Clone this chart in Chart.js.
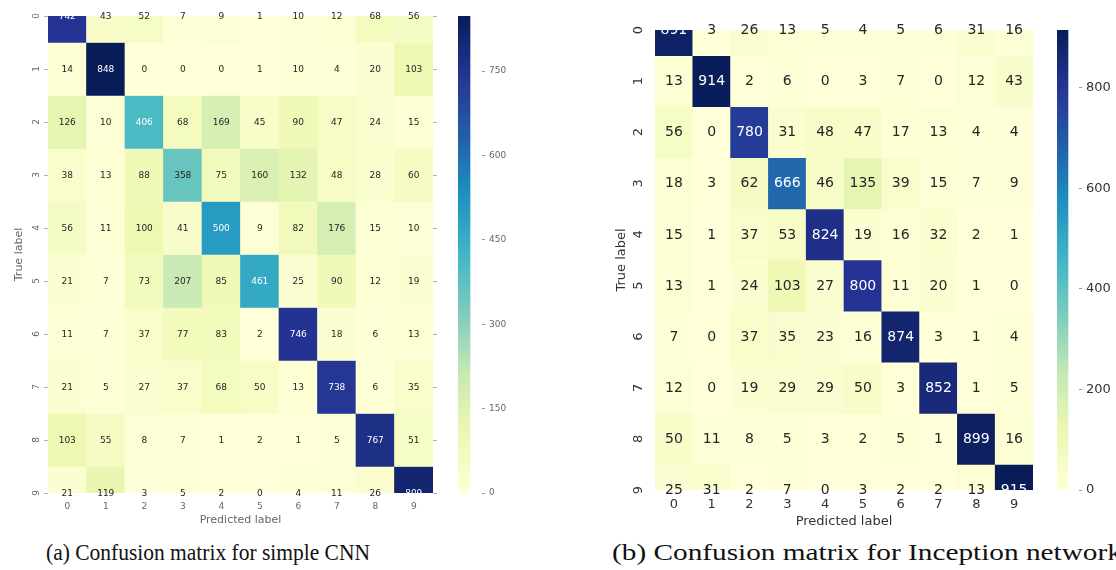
<!DOCTYPE html>
<html>
<head>
<meta charset="utf-8">
<script src="https://cdn.jsdelivr.net/npm/chart.js@4.4.1/dist/chart.umd.min.js"></script>
<style>
  html, body { margin: 0; padding: 0; background: #fff; }
  body { width: 1116px; height: 570px; position: relative; overflow: hidden; }
  canvas { position: absolute; }
  .caption {
    position: absolute; white-space: nowrap; transform-origin: 0 0;
    font-family: "Liberation Serif", "DejaVu Serif", serif; font-size: 24px; line-height: 24px; color: #111;
  }
</style>
</head>
<body>
<canvas id="cnnChart" width="445" height="530" style="left:0;top:0"></canvas>
<canvas id="cnnBar" width="60" height="510" style="left:450px;top:0"></canvas>
<canvas id="incChart" width="450" height="535" style="left:600px;top:0"></canvas>
<canvas id="incBar" width="66" height="510" style="left:1050px;top:0"></canvas>
<div class="caption" id="capA" style="left:46px;top:540px">(a) Confusion matrix for simple CNN</div>
<div class="caption" id="capB" style="left:612px;top:540px">(b) Confusion matrix for Inception network</div>

<script>
// class labels for both axes
const classLabels = ['0', '1', '2', '3', '4', '5', '6', '7', '8', '9'];

// rows = true label, columns = predicted label
const cnnMatrix = [
    [742, 43, 52, 7, 9, 1, 10, 12, 68, 56],
    [14, 848, 0, 0, 0, 1, 10, 4, 20, 103],
    [126, 10, 406, 68, 169, 45, 90, 47, 24, 15],
    [38, 13, 88, 358, 75, 160, 132, 48, 28, 60],
    [56, 11, 100, 41, 500, 9, 82, 176, 15, 10],
    [21, 7, 73, 207, 85, 461, 25, 90, 12, 19],
    [11, 7, 37, 77, 83, 2, 746, 18, 6, 13],
    [21, 5, 27, 37, 68, 50, 13, 738, 6, 35],
    [103, 55, 8, 7, 1, 2, 1, 5, 767, 51],
    [21, 119, 3, 5, 2, 0, 4, 11, 26, 809]
];

const inceptionMatrix = [
    [891, 3, 26, 13, 5, 4, 5, 6, 31, 16],
    [13, 914, 2, 6, 0, 3, 7, 0, 12, 43],
    [56, 0, 780, 31, 48, 47, 17, 13, 4, 4],
    [18, 3, 62, 666, 46, 135, 39, 15, 7, 9],
    [15, 1, 37, 53, 824, 19, 16, 32, 2, 1],
    [13, 1, 24, 103, 27, 800, 11, 20, 1, 0],
    [7, 0, 37, 35, 23, 16, 874, 3, 1, 4],
    [12, 0, 19, 29, 29, 50, 3, 852, 1, 5],
    [50, 11, 8, 5, 3, 2, 5, 1, 899, 16],
    [25, 31, 2, 7, 0, 3, 2, 2, 13, 915]
];

const cnnBarTicks = [0, 150, 300, 450, 600, 750];
const inceptionBarTicks = [0, 200, 400, 600, 800];

// YlGnBu colour stops
const ylgnbu = ['#ffffd9', '#edf8b1', '#c7e9b4', '#7fcdbb', '#41b6c4', '#1d91c0', '#225ea8', '#253494', '#081d58'];

function hexToRgb(h) {
    return [parseInt(h.substr(1, 2), 16), parseInt(h.substr(3, 2), 16), parseInt(h.substr(5, 2), 16)];
}

function cmapRgb(t) {
    t = Math.max(0, Math.min(1, t));
    const n = ylgnbu.length - 1;
    const pos = t * n;
    const i = Math.min(Math.floor(pos), n - 1);
    const f = pos - i;
    const a = hexToRgb(ylgnbu[i]), b = hexToRgb(ylgnbu[i + 1]);
    return a.map((v, k) => Math.round(v + (b[k] - v) * f));
}

function cmap(t) {
    const c = cmapRgb(t);
    return `rgb(${c[0]},${c[1]},${c[2]})`;
}

// same rule seaborn uses to pick the annotation colour
function textColorFor(t) {
    const lin = cmapRgb(t).map(v => {
        v = v / 255;
        return v <= 0.03928 ? v / 12.92 : Math.pow((v + 0.055) / 1.055, 2.4);
    });
    const lum = 0.2126 * lin[0] + 0.7152 * lin[1] + 0.0722 * lin[2];
    return lum > 0.408 ? '#262626' : '#ffffff';
}

const fontFamily = "'DejaVu Sans', sans-serif";

function heatmap(id, matrix, cfg) {
    const vmax = Math.max(...matrix.flat());

    const datasets = matrix.map((row, r) => ({
        data: row.map(() => [r - 0.5, r + 0.5]),
        backgroundColor: row.map(v => cmap(v / vmax)),
        borderWidth: 0,
        barPercentage: 1,
        categoryPercentage: 1,
        grouped: false,
        yAxisID: 'y'
    }));

    const annotate = {
        id: 'annotate',
        afterDatasetsDraw(chart) {
            const ctx = chart.ctx;
            const xs = chart.scales.x, ys = chart.scales.y;
            ctx.save();
            ctx.font = cfg.cellFont + 'px ' + fontFamily;
            ctx.textAlign = 'center';
            ctx.textBaseline = 'middle';
            matrix.forEach((row, r) => {
                row.forEach((v, c) => {
                    ctx.fillStyle = textColorFor(v / vmax);
                    ctx.fillText(String(v), xs.getPixelForValue(c), ys.getPixelForValue(r) + 0.5);
                });
            });
            // rotated y tick labels
            ctx.font = cfg.tickFont + 'px ' + fontFamily;
            ctx.fillStyle = cfg.tickColor;
            classLabels.forEach((lab, r) => {
                ctx.save();
                ctx.translate(cfg.yLabelX, ys.getPixelForValue(r));
                ctx.rotate(-Math.PI / 2);
                ctx.fillText(lab, 0, 0);
                ctx.restore();
            });
            ctx.restore();
        }
    };

    const tickGrid = {
        display: cfg.tickMarks,
        drawOnChartArea: false,
        drawTicks: true,
        tickLength: 4,
        color: '#b0b0b0'
    };

    const scales = {
        x: {
            type: 'category',
            labels: classLabels,
            offset: true,
            grid: { display: false, drawTicks: false },
            border: { display: false },
            ticks: { font: { family: fontFamily, size: cfg.tickFont }, color: cfg.tickColor, padding: cfg.xTickPad, maxRotation: 0 },
            title: {
                display: true, text: 'Predicted label', color: cfg.tickColor,
                font: { family: fontFamily, size: cfg.titleFont },
                padding: { top: cfg.xTitlePad, bottom: cfg.xTitlePad }
            },
            afterFit: s => { s.height = cfg.xAxisHeight; }
        },
        y: {
            type: 'linear',
            reverse: true,
            min: 0,
            max: classLabels.length - 1,
            ticks: { stepSize: 1, display: false },
            grid: tickGrid,
            border: { display: false },
            title: {
                display: true, text: 'True label', color: cfg.tickColor,
                font: { family: fontFamily, size: cfg.titleFont },
                padding: { top: cfg.yTitlePad, bottom: cfg.yTitlePad }
            },
            afterFit: s => { s.width = cfg.yAxisWidth; }
        }
    };
    if (cfg.rightAxisWidth) {
        scales.y1 = {
            type: 'linear', position: 'right', reverse: true,
            min: 0, max: classLabels.length - 1,
            ticks: { stepSize: 1, display: false },
            grid: tickGrid,
            border: { display: false },
            afterFit: s => { s.width = cfg.rightAxisWidth; }
        };
    }

    return new Chart(document.getElementById(id), {
        type: 'bar',
        data: { labels: classLabels, datasets: datasets },
        options: {
            responsive: false,
            animation: false,
            devicePixelRatio: 1,
            layout: { padding: cfg.padding },
            plugins: { legend: { display: false }, tooltip: { enabled: false } },
            scales: scales
        },
        plugins: [annotate]
    });
}

function colorbar(id, vmax, tickValues, cfg) {
    return new Chart(document.getElementById(id), {
        type: 'bar',
        data: {
            labels: [''],
            datasets: [{
                data: [[0, vmax]],
                borderWidth: 0,
                barPercentage: 1,
                categoryPercentage: 1,
                backgroundColor: ctx => {
                    const area = ctx.chart.chartArea;
                    if (!area) return '#ffffd9';
                    const g = ctx.chart.ctx.createLinearGradient(0, area.bottom, 0, area.top);
                    ylgnbu.forEach((c, i) => g.addColorStop(i / (ylgnbu.length - 1), c));
                    return g;
                }
            }]
        },
        options: {
            responsive: false,
            animation: false,
            devicePixelRatio: 1,
            layout: { padding: cfg.padding },
            plugins: { legend: { display: false }, tooltip: { enabled: false } },
            scales: {
                x: { display: false, offset: false },
                y: {
                    position: 'right',
                    min: 0,
                    max: vmax,
                    afterBuildTicks: s => { s.ticks = tickValues.map(v => ({ value: v })); },
                    ticks: { font: { family: fontFamily, size: cfg.tickFont }, color: cfg.tickColor, padding: 4 },
                    grid: { drawOnChartArea: false, drawTicks: true, tickLength: 3, color: '#999' },
                    border: { display: false },
                    afterFit: s => { s.width = cfg.axisWidth; }
                }
            }
        }
    });
}

heatmap('cnnChart', cnnMatrix, {
    padding: { left: 0, top: 16, right: 0, bottom: 0 },
    yAxisWidth: 48, rightAxisWidth: 12, xAxisHeight: 37,
    cellFont: 9, tickFont: 9, titleFont: 11, tickColor: '#666',
    xTickPad: 8.5, xTitlePad: 3, yTitlePad: 13, yLabelX: 37, tickMarks: true
});
colorbar('cnnBar', Math.max(...cnnMatrix.flat()), cnnBarTicks, {
    padding: { left: 8, top: 16, right: 0, bottom: 17 },
    axisWidth: 28, tickFont: 9, tickColor: '#666'
});

heatmap('incChart', inceptionMatrix, {
    padding: { left: 0, top: 30, right: 17, bottom: 0 },
    yAxisWidth: 55, rightAxisWidth: 0, xAxisHeight: 45,
    cellFont: 14, tickFont: 13, titleFont: 13, tickColor: '#333',
    xTickPad: 7, xTitlePad: 6, yTitlePad: 14, yLabelX: 39, tickMarks: false
});
colorbar('incBar', Math.max(...inceptionMatrix.flat()), inceptionBarTicks, {
    padding: { left: 7, top: 30, right: 0, bottom: 20 },
    axisWidth: 37, tickFont: 13, tickColor: '#333'
});

// fit each caption to the width it has in the figure ((b) runs past the right edge)
const capA = document.getElementById('capA');
const capB = document.getElementById('capB');
capA.style.transform = 'scaleX(' + (324 / capA.offsetWidth) + ')';
capB.style.transform = 'scaleX(' + (510 / capB.offsetWidth) + ')';
</script>
</body>
</html>
